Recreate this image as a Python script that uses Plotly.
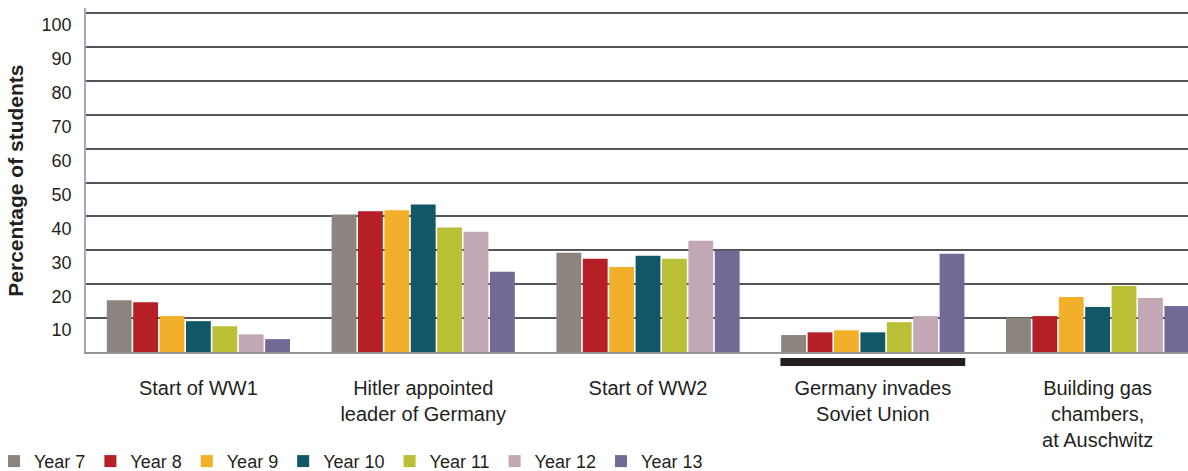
import plotly.graph_objects as go

# Events students were asked about
categories = [
    "Start of WW1",
    "Hitler appointed<br>leader of Germany",
    "Start of WW2",
    "Germany invades<br>Soviet Union",
    "Building gas<br>chambers,<br>at Auschwitz",
]

# Percentage of students per year group
year_7 = [15.3, 40.6, 29.3, 5.0, 10.1]
year_8 = [14.7, 41.5, 27.5, 5.8, 10.6]
year_9 = [10.6, 41.8, 25.1, 6.4, 16.2]
year_10 = [9.1, 43.5, 28.4, 5.8, 13.3]
year_11 = [7.6, 36.7, 27.5, 8.8, 19.5]
year_12 = [5.2, 35.5, 32.8, 10.6, 15.9]
year_13 = [3.8, 23.7, 29.9, 29.0, 13.6]

series_names = ["Year 7", "Year 8", "Year 9", "Year 10", "Year 11", "Year 12", "Year 13"]
series_values = [year_7, year_8, year_9, year_10, year_11, year_12, year_13]
series_colors = ["#8b847f", "#b51f26", "#f2b02a", "#115767", "#bac035", "#c2a7b5", "#736996"]

y_ticks = [10, 20, 30, 40, 50, 60, 70, 80, 90, 100]
highlight_category = 3

FONT = "Liberation Sans, Arial, Helvetica, sans-serif"
TEXT = "#231f20"

x_range = [-0.5, 4.402]
y_range = [0, 101.5]
bargap = 0.178

fig = go.Figure()
for name, vals, col in zip(series_names, series_values, series_colors):
    fig.add_trace(go.Bar(
        name=name, x=list(range(len(categories))), y=vals,
        marker=dict(color=col, line=dict(width=0)),
    ))

# Underline bar beneath the highlighted group
half = (1 - bargap) / 2
span = x_range[1] - x_range[0]
fig.add_shape(
    type="rect", xref="paper", yref="paper",
    x0=(highlight_category - half - x_range[0]) / span,
    x1=(highlight_category + half - x_range[0]) / span,
    y0=-0.041, y1=-0.0176,
    fillcolor=TEXT, line=dict(width=0), layer="above",
)

fig.add_annotation(
    text="Percentage of students", textangle=-90,
    xref="paper", yref="paper", x=-0.0635, y=0.498,
    xanchor="center", yanchor="middle", showarrow=False,
    font=dict(family=FONT, size=21, color=TEXT, weight="bold"),
)

fig.update_layout(
    width=1188, height=471,
    margin=dict(l=86, r=0, t=8, b=119, autoexpand=False),
    paper_bgcolor="white", plot_bgcolor="white",
    barmode="group", bargap=bargap, bargroupgap=0.06,
    font=dict(family=FONT, color=TEXT),
    showlegend=True,
    legend=dict(
        orientation="h", x=-0.0835, xanchor="left", y=-0.318, yanchor="middle",
        font=dict(family=FONT, size=18, color=TEXT),
        bgcolor="rgba(0,0,0,0)", itemclick=False,
    ),
    xaxis=dict(
        range=x_range, tickmode="array",
        tickvals=list(range(len(categories))), ticktext=categories,
        showgrid=False, zeroline=False,
        showline=True, linecolor="#939598", linewidth=2,
        ticks="", ticklabelstandoff=17,
        tickfont=dict(family=FONT, size=20, color=TEXT),
    ),
    yaxis=dict(
        range=y_range, tickmode="array", tickvals=y_ticks,
        showgrid=True, gridcolor="#555555", gridwidth=1.5,
        zeroline=False, showline=True, linecolor="#a7a3c6", linewidth=1.5,
        ticks="", ticklabelstandoff=9, ticklabelshift=12,
        tickfont=dict(family=FONT, size=18, color=TEXT),
    ),
)

fig.write_html("out.html")
